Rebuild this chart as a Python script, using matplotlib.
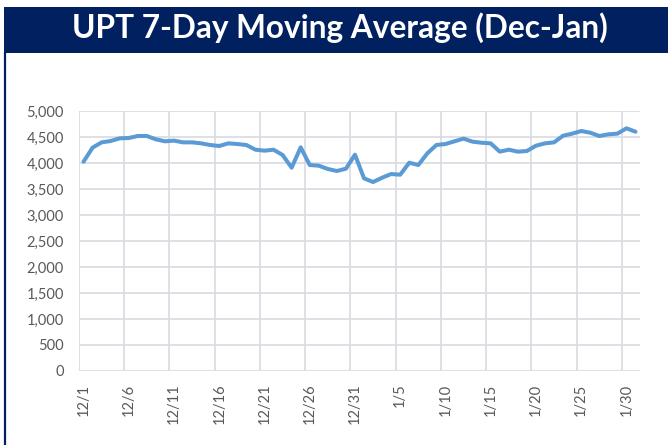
import matplotlib
matplotlib.use("Agg")
import matplotlib.pyplot as plt
from matplotlib.patches import Rectangle
from matplotlib.lines import Line2D
import pandas as pd

title = "UPT 7-Day Moving Average (Dec-Jan)"
dates = pd.date_range("2020-12-01", "2021-01-31", freq="D")
labels = [f"{d.month}/{d.day}" for d in dates]
values = [4025, 4295, 4397, 4423, 4474, 4481, 4519, 4519, 4455, 4417,
          4430, 4397, 4397, 4378, 4346, 4327, 4378, 4365, 4346, 4256,
          4237, 4256, 4154, 3910, 4301, 3961, 3948, 3885, 3846, 3891,
          4160, 3705, 3634, 3717, 3788, 3775, 4006, 3961, 4186, 4346,
          4365, 4417, 4468, 4410, 4390, 4378, 4218, 4256, 4218, 4231,
          4333, 4378, 4397, 4525, 4564, 4615, 4583, 4519, 4551, 4564,
          4667, 4602]
yticks = list(range(0, 5001, 500))

navy = "#002060"
grid_c = "#D9D9E1"
text_c = "#595959"
line_c = "#5B9BD5"

fig = plt.figure(figsize=(6.68, 4.45), dpi=100)
fig.patch.set_facecolor("white")

# title bar and border
fig.add_artist(Rectangle((4/668, 1-53/445), 1-4/668, 46/445, transform=fig.transFigure,
                         facecolor=navy, edgecolor="none"))
fig.add_artist(Line2D([5/668, 5/668], [0, 1-53/445], transform=fig.transFigure,
                      color=navy, lw=1.6))
fig.text(0.509, 1-38/445, title, color="white", fontsize=22.8, fontweight="bold",
         family=["Lato", "DejaVu Sans"], ha="center", va="baseline")

ax = fig.add_axes([79/668, 1-371/445, (640-79)/668, (371-111)/445])
n = len(values)
x = [i + 0.5 for i in range(n)]
ax.plot(x, values, color=line_c, lw=2.9, solid_joinstyle="round", solid_capstyle="round", zorder=3)

ax.set_xlim(0, n)
ax.set_ylim(0, 5000)
ax.set_yticks(yticks)
ax.set_yticklabels([f"{v:,}" for v in yticks])
tick_idx = list(range(0, n, 5))
ax.set_xticks([i + 0.5 for i in tick_idx])
ax.set_xticklabels([labels[i] for i in tick_idx], rotation=90)
ax.tick_params(axis="both", length=0, colors=text_c, labelsize=10.5)
ax.tick_params(axis="y", pad=11)
ax.tick_params(axis="x", pad=9)
for lab in ax.get_xticklabels() + ax.get_yticklabels():
    lab.set_family(["Lato", "DejaVu Sans"])

for v in yticks:
    ax.axhline(v, color=grid_c, lw=1.2, zorder=1)
for i in tick_idx:
    ax.axvline(i, color=grid_c, lw=1.2, zorder=1)
for s in ax.spines.values():
    s.set_visible(False)

fig.savefig("out.png", dpi=100, facecolor="white")
